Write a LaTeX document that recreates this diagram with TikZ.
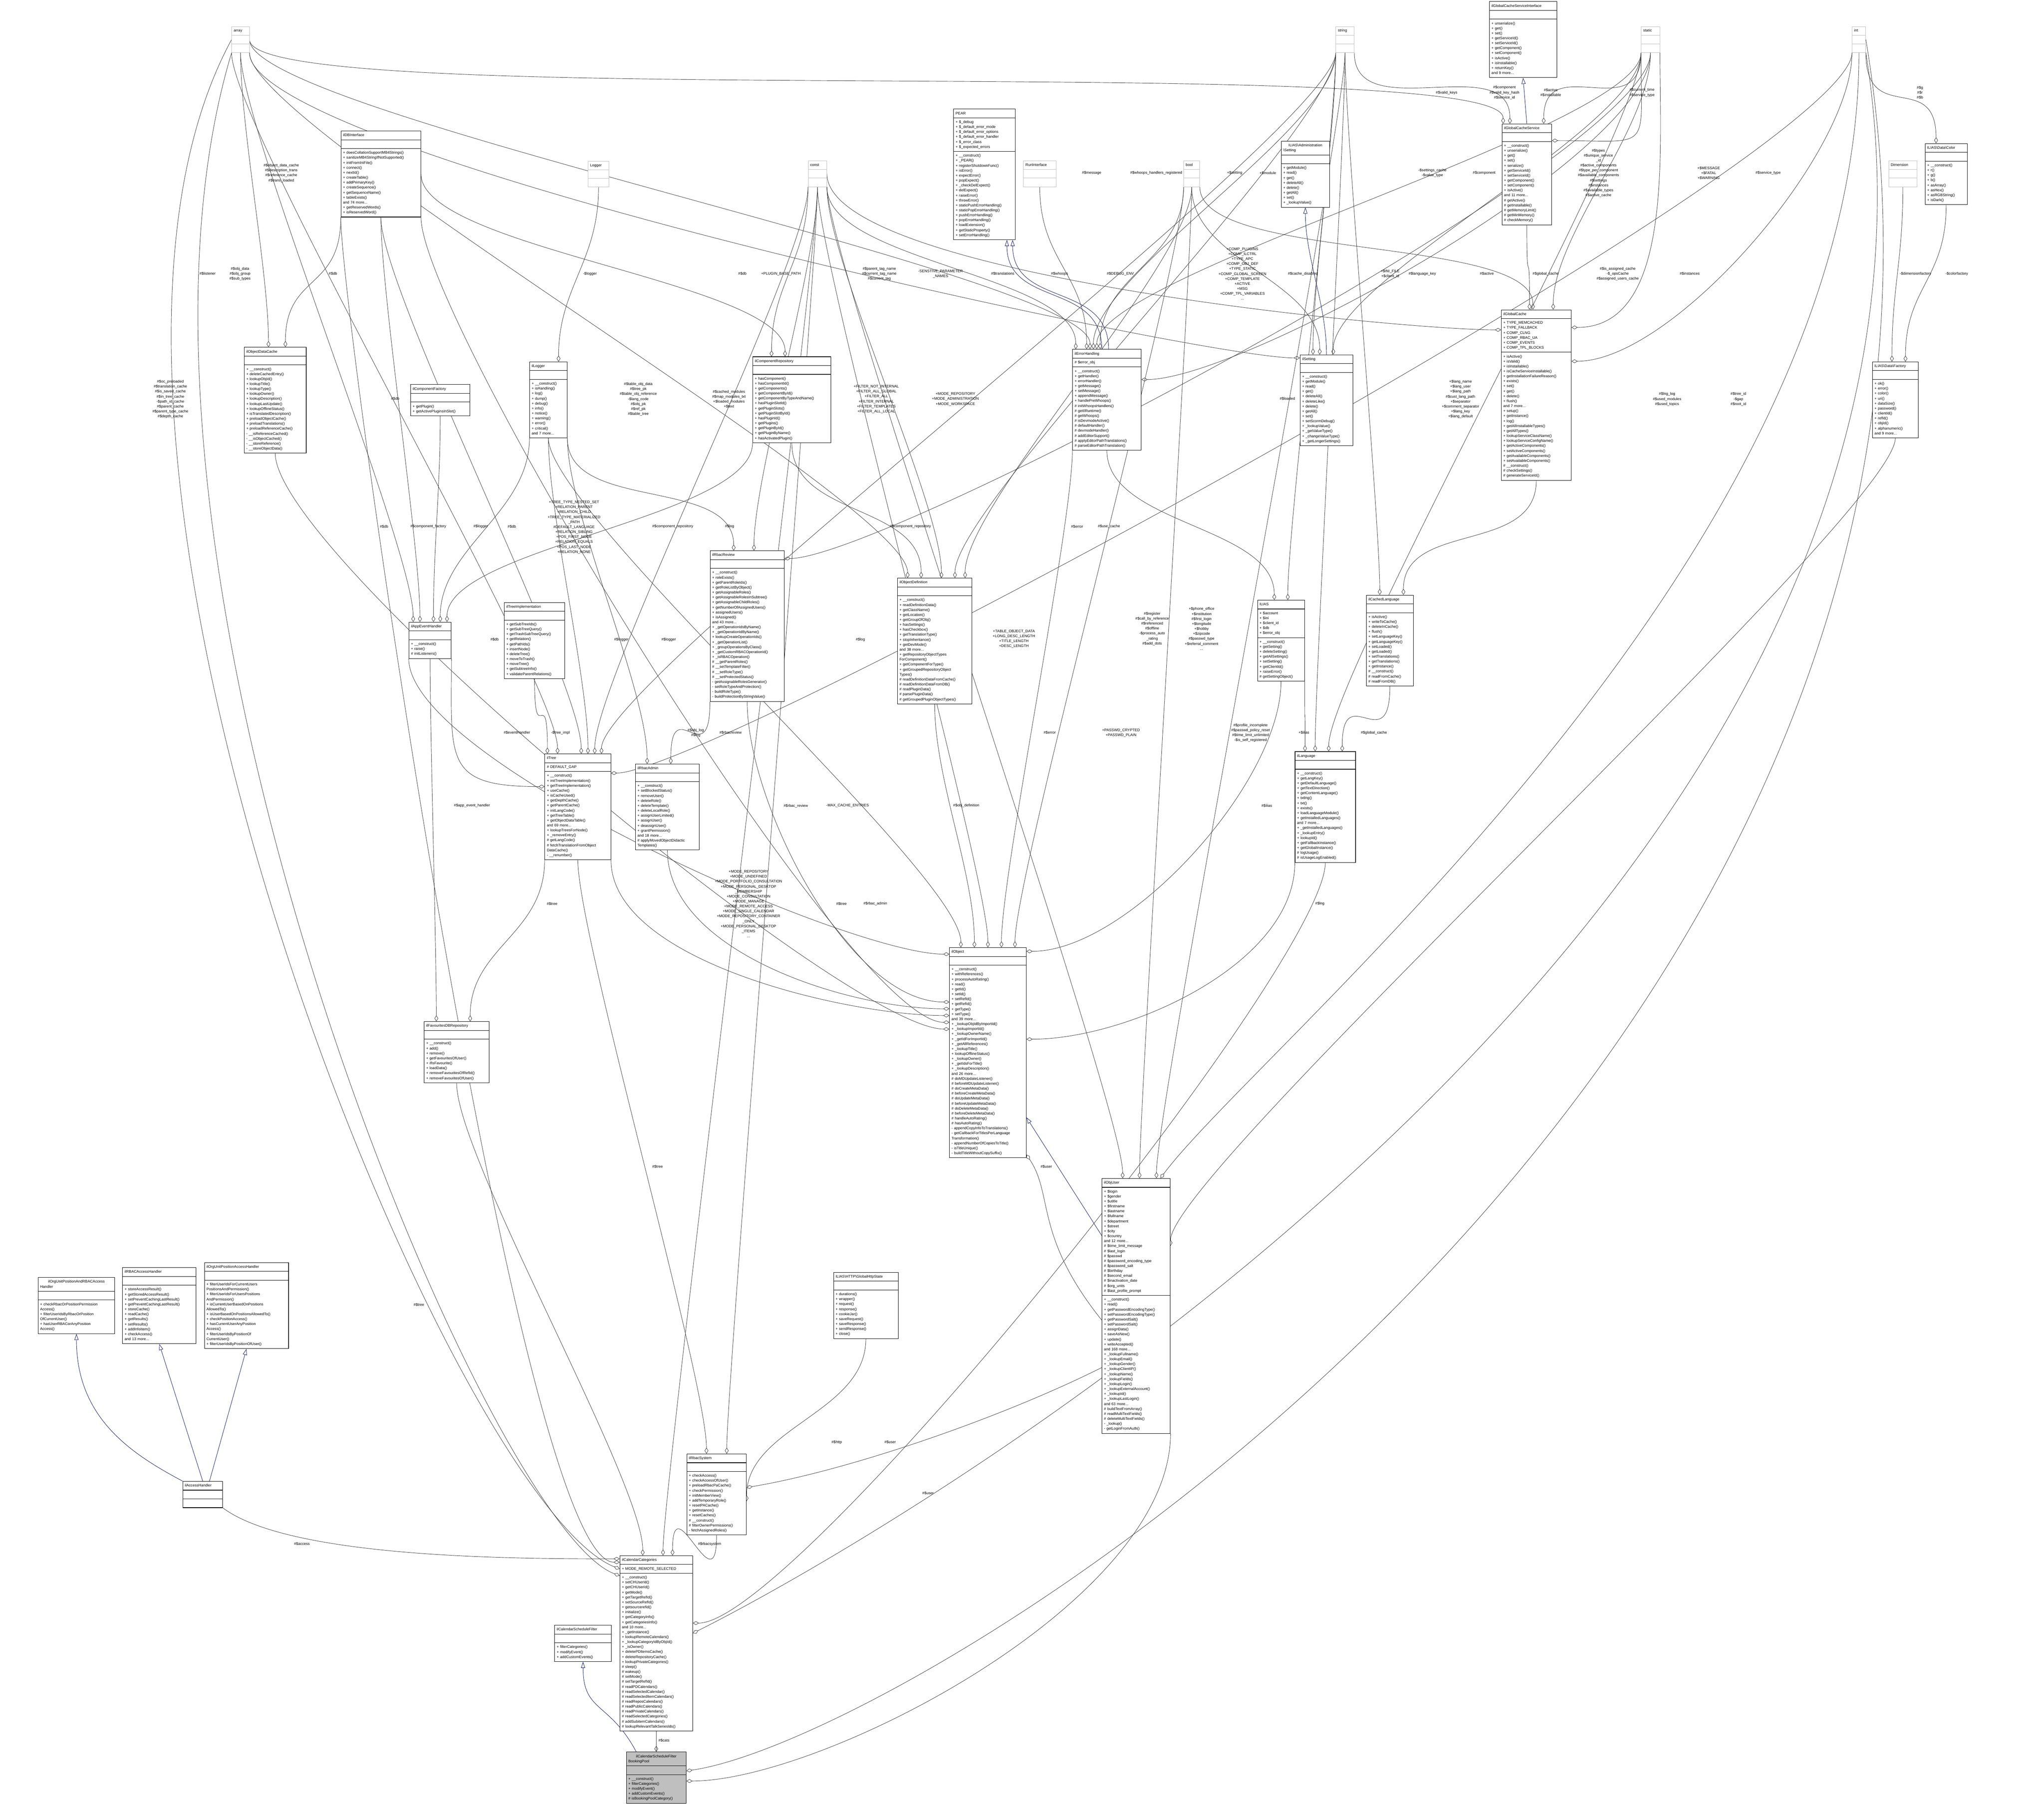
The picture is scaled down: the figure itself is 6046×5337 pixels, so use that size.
\documentclass[tikz,border=0pt]{standalone}
\usepackage{fontspec}
\setmainfont{Liberation Sans}
\usetikzlibrary{shapes.multipart,arrows.meta,calc,backgrounds}
\setlength\parindent{0pt}
\hyphenpenalty=10000 \exhyphenpenalty=10000 \hbadness=10000 \hfuzz=50pt
\newcommand\fs{\fontsize{11}{14.7}\selectfont}
\newcommand\bs{\textbackslash{}}
\definecolor{navyc}{RGB}{25,25,112}
\definecolor{edgec}{RGB}{64,64,64}
\tikzset{
 cls/.style={draw=black,line width=1.3pt,fill=white,rectangle split,rectangle split parts=3,
   inner xsep=6pt,inner ysep=5pt,anchor=north west,font=\fs},
 typ/.style={cls,draw=gray!50,line width=1pt},
 grey/.style={cls,fill=gray!50},
 aggl/.style={draw=edgec,line width=1.1pt,-{Diamond[open,length=18pt,width=11pt]}},
 inh/.style={draw=navyc,line width=1.1pt,-{Triangle[open,length=18pt,width=12pt]}},
 lbl/.style={font=\fs,align=center,inner sep=1pt},
}
\newcommand\ag[2]{\draw[aggl] (#1) .. controls +(0,220) and +(0,-220) .. (#2);}
\newcommand\agW[2]{\draw[aggl] (#1) .. controls +(0,300) and +(-300,0) .. (#2);}
\newcommand\agE[2]{\draw[aggl] (#1) .. controls +(0,300) and +(300,0) .. (#2);}
\newcommand\T[1]{\centering\strut #1\strut}
\newcommand\E{\strut}
\begin{document}
\begin{tikzpicture}[x=1pt,y=-1pt]
\useasboundingbox (0,0) rectangle (6046,5337);
% ---- simple type boxes
\node[typ,text width=40pt] (arr) at (685,78) {\T{array}\nodepart{two}\E\nodepart{three}\E};
\node[typ,text width=42pt] (str) at (3951,78) {\T{string}\nodepart{two}\E\nodepart{three}\E};
\node[typ,text width=43pt] (sta) at (4854,78) {\T{static}\nodepart{two}\E\nodepart{three}\E};
\node[typ,text width=28pt] (int) at (5478,78) {\T{int}\nodepart{two}\E\nodepart{three}\E};
\node[typ,text width=43pt] (cst) at (2390,475) {\T{const}\nodepart{two}\E\nodepart{three}\E};
\node[typ,text width=50pt] (lgr) at (1739,476) {\T{Logger}\nodepart{two}\E\nodepart{three}\E};
\node[typ,text width=84pt] (run) at (3027,475) {\T{RunInterface}\nodepart{two}\E\nodepart{three}\E};
\node[typ,text width=35pt] (bool) at (3501,475) {\T{bool}\nodepart{two}\E\nodepart{three}\E};
\node[typ,text width=72pt] (dim) at (5586,475) {\T{Dimension}\nodepart{two}\E\nodepart{three}\E};
% ---- classes
\node[cls,text width=187pt] (gcsi) at (4405,4) {\T{ilGlobalCacheServiceInterface}\nodepart{two}\E\nodepart{three}\strut+ unserialize()\\+ get()\\+ set()\\+ getServiceId()\\+ setServiceId()\\+ getComponent()\\+ setComponent()\\+ isActive()\\+ isInstallable()\\+ returnKey()\\and 9 more...\strut};
\node[cls,text width=224pt] (db) at (1008,387) {\T{ilDBInterface}\nodepart{two}\E\nodepart{three}\strut+ doesCollationSupportMB4Strings()\\+ sanitizeMB4StringIfNotSupported()\\+ initFromIniFile()\\+ connect()\\+ nextId()\\+ createTable()\\+ addPrimaryKey()\\+ createSequence()\\+ getSequenceName()\\+ tableExists()\\and 74 more...\\+ getReservedWords()\\+ isReservedWord()\strut};
\node[cls,text width=170pt] (pear) at (2820,322) {\T{PEAR}\nodepart{two}\strut+ \$\_debug\\+ \$\_default\_error\_mode\\+ \$\_default\_error\_options\\+ \$\_default\_error\_handler\\+ \$\_error\_class\\+ \$\_expected\_errors\strut\nodepart{three}\strut+ \_\_construct()\\+ \_PEAR()\\+ registerShutdownFunc()\\+ isError()\\+ expectError()\\+ popExpect()\\+ \_checkDelExpect()\\+ delExpect()\\+ raiseError()\\+ throwError()\\+ staticPushErrorHandling()\\+ staticPopErrorHandling()\\+ pushErrorHandling()\\+ popErrorHandling()\\+ loadExtension()\\+ getStaticProperty()\\+ setErrorHandling()\strut};
\node[cls,text width=131pt] (adms) at (3789,417) {\T{ILIAS\bs Administration\\\bs Setting}\nodepart{two}\E\nodepart{three}\strut+ getModule()\\+ read()\\+ get()\\+ deleteAll()\\+ delete()\\+ getAll()\\+ set()\\+ \_lookupValue()\strut};
\node[cls,text width=135pt] (gcs) at (4442,366) {\T{ilGlobalCacheService}\nodepart{two}\E\nodepart{three}\strut+ \_\_construct()\\+ unserialize()\\+ get()\\+ set()\\+ serialize()\\+ getServiceId()\\+ setServiceId()\\+ getComponent()\\+ setComponent()\\+ isActive()\\and 11 more...\\\# getActive()\\\# getInstallable()\\\# getMemoryLimit()\\\# getMinMemory()\\\# checkMemory()\strut};
\node[cls,text width=112pt] (col) at (5694,424) {\T{ILIAS\bs Data\bs Color}\nodepart{two}\E\nodepart{three}\strut+ \_\_construct()\\+ r()\\+ g()\\+ b()\\+ asArray()\\+ asHex()\\+ asRGBString()\\+ isDark()\strut};
\node[cls,text width=171pt] (odc) at (722,1027) {\T{ilObjectDataCache}\nodepart{two}\E\nodepart{three}\strut+ \_\_construct()\\+ deleteCachedEntry()\\+ lookupObjId()\\+ lookupTitle()\\+ lookupType()\\+ lookupOwner()\\+ lookupDescription()\\+ lookupLastUpdate()\\+ lookupOfflineStatus()\\+ isTranslatedDescription()\\+ preloadObjectCache()\\+ preloadTranslations()\\+ preloadReferenceCache()\\- \_\_isReferenceCached()\\- \_\_isObjectCached()\\- \_\_storeReference()\\- \_\_storeObjectData()\strut};
\node[cls,text width=163pt] (cf) at (1214,1137) {\T{ilComponentFactory}\nodepart{two}\E\nodepart{three}\strut+ getPlugin()\\+ getActivePluginsInSlot()\strut};
\node[cls,text width=99pt] (log) at (1566,1070) {\T{ilLogger}\nodepart{two}\E\nodepart{three}\strut+ \_\_construct()\\+ isHandling()\\+ log()\\+ dump()\\+ debug()\\+ info()\\+ notice()\\+ warning()\\+ error()\\+ critical()\\and 7 more...\strut};
\node[cls,text width=219pt] (cr) at (2226,1055) {\T{ilComponentRepository}\nodepart{two}\E\nodepart{three}\strut+ hasComponent()\\+ hasComponentId()\\+ getComponents()\\+ getComponentById()\\+ getComponentByTypeAndName()\\+ hasPluginSlotId()\\+ getPluginSlots()\\+ getPluginSlotById()\\+ hasPluginId()\\+ getPlugins()\\+ getPluginById()\\+ getPluginByName()\\+ hasActivatedPlugin()\strut};
\node[cls,text width=191pt] (eh) at (3172,1033) {\T{ilErrorHandling}\nodepart{two}\strut\# \$error\_obj\strut\nodepart{three}\strut+ \_\_construct()\\+ getHandler()\\+ errorHandler()\\+ getMessage()\\+ setMessage()\\+ appendMessage()\\+ handlePreWhoops()\\\# initWhoopsHandlers()\\\# getIlRuntime()\\\# getWhoops()\\\# isDevmodeActive()\\\# defaultHandler()\\\# devmodeHandler()\\\# addEditorSupport()\\\# applyEditorPathTranslations()\\\# parseEditorPathTranslation()\strut};
\node[cls,text width=144pt] (set) at (3845,1049) {\T{ilSetting}\nodepart{two}\E\nodepart{three}\strut+ \_\_construct()\\+ getModule()\\+ read()\\+ get()\\+ deleteAll()\\+ deleteLike()\\+ delete()\\+ getAll()\\+ set()\\+ setScormDebug()\\+ \_lookupValue()\\+ \_getValueType()\\+ \_changeValueType()\\+ \_getLongerSettings()\strut};
\node[cls,text width=195pt] (gc) at (4440,916) {\T{ilGlobalCache}\nodepart{two}\strut+ TYPE\_MEMCACHED\\+ TYPE\_FALLBACK\\+ COMP\_CLNG\\+ COMP\_RBAC\_UA\\+ COMP\_EVENTS\\+ COMP\_TPL\_BLOCKS\strut\nodepart{three}\strut+ isActive()\\+ isValid()\\+ isInstallable()\\+ isCacheServiceInstallable()\\+ getInstallationFailureReason()\\+ exists()\\+ set()\\+ get()\\+ delete()\\+ flush()\\and 7 more...\\+ setup()\\+ getInstance()\\+ log()\\+ getAllInstallableTypes()\\+ getAllTypes()\\+ lookupServiceClassName()\\+ lookupServiceConfigName()\\+ getActiveComponents()\\+ setActiveComponents()\\+ getAvailableComponents()\\+ setAvailableComponents()\\\# \_\_construct()\\\# checkSettings()\\\# generateServiceId()\strut};
\node[cls,text width=123pt] (dfac) at (5538,1070) {\T{ILIAS\bs Data\bs Factory}\nodepart{two}\E\nodepart{three}\strut+ ok()\\+ error()\\+ color()\\+ uri()\\+ dataSize()\\+ password()\\+ clientId()\\+ refId()\\+ objId()\\+ alphanumeric()\\and 9 more...\strut};
\node[cls,text width=113pt] (aeh) at (1209,1840) {\T{ilAppEventHandler}\nodepart{two}\E\nodepart{three}\strut+ \_\_construct()\\+ raise()\\\# initListeners()\strut};
\node[cls,text width=167pt] (ti) at (1491,1782) {\T{ilTreeImplementation}\nodepart{two}\E\nodepart{three}\strut+ getSubTreeIds()\\+ getSubTreeQuery()\\+ getTrashSubTreeQuery()\\+ getRelation()\\+ getPathIds()\\+ insertNode()\\+ deleteTree()\\+ moveToTrash()\\+ moveTree()\\+ getSubtreeInfo()\\+ validateParentRelations()\strut};
\node[cls,text width=207pt] (rr) at (2100,1629) {\T{ilRbacReview}\nodepart{two}\E\nodepart{three}\strut+ \_\_construct()\\+ roleExists()\\+ getParentRoleIds()\\+ getRoleListByObject()\\+ getAssignableRoles()\\+ getAssignableRolesInSubtree()\\+ getAssignableChildRoles()\\+ getNumberOfAssignedUsers()\\+ assignedUsers()\\+ isAssigned()\\and 43 more...\\+ \_getOperationIdsByName()\\+ \_getOperationIdByName()\\+ lookupCreateOperationIds()\\+ \_getOperationList()\\+ \_groupOperationsByClass()\\+ \_getCustomRBACOperationId()\\+ \_isRBACOperation()\\\# \_\_getParentRoles()\\\# \_\_setTemplateFilter()\\\# \_\_setRoleType()\\\# \_\_setProtectedStatus()\\- getAssignableRolesGenerator()\\- setRoleTypeAndProtection()\\- buildRoleType()\\- buildProtectionByStringValue()\strut};
\node[cls,text width=208pt] (od) at (2654,1710) {\T{ilObjectDefinition}\nodepart{two}\E\nodepart{three}\strut+ \_\_construct()\\+ readDefinitionData()\\+ getClassName()\\+ getLocation()\\+ getGroupOfObj()\\+ hasSettings()\\+ hasCheckbox()\\+ getTranslationType()\\+ stopInheritance()\\+ getDevMode()\\and 38 more...\\+ getRepositoryObjectTypes\\ForComponent()\\+ getComponentForType()\\+ getGroupedRepositoryObject\\Types()\\\# readDefinitionDataFromCache()\\\# readDefinitionDataFromDB()\\\# readPluginData()\\\# parsePluginData()\\\# getGroupedPluginObjectTypes()\strut};
\node[cls,text width=127pt] (ilias) at (3719,1775) {\T{ILIAS}\nodepart{two}\strut+ \$account\\+ \$ini\\+ \$client\_id\\+ \$db\\+ \$error\_obj\strut\nodepart{three}\strut+ \_\_construct()\\+ getSetting()\\+ deleteSetting()\\+ getAllSettings()\\+ setSetting()\\+ getClientId()\\+ raiseError()\\\# getSettingObject()\strut};
\node[cls,text width=127pt] (cl) at (4041,1760) {\T{ilCachedLanguage}\nodepart{two}\E\nodepart{three}\strut+ isActive()\\+ writeToCache()\\+ deleteInCache()\\+ flush()\\+ setLanguageKey()\\+ getLanguageKey()\\+ setLoaded()\\+ getLoaded()\\+ setTranslations()\\+ getTranslations()\\+ getInstance()\\\# \_\_construct()\\\# readFromCache()\\\# readFromDB()\strut};
\node[cls,text width=183pt] (tree) at (1611,2230) {\T{ilTree}\nodepart{two}\strut\# DEFAULT\_GAP\strut\nodepart{three}\strut+ \_\_construct()\\+ initTreeImplementation()\\+ getTreeImplementation()\\+ useCache()\\+ isCacheUsed()\\+ getDepthCache()\\+ getParentCache()\\+ initLangCode()\\+ getTreeTable()\\+ getObjectDataTable()\\and 69 more...\\+ lookupTreesForNode()\\+ \_removeEntry()\\\# getLangCode()\\\# fetchTranslationFromObject\\DataCache()\\- \_\_renumber()\strut};
\node[cls,text width=177pt] (ra) at (1879,2260) {\T{ilRbacAdmin}\nodepart{two}\E\nodepart{three}\strut+ \_\_construct()\\+ setBlockedStatus()\\+ removeUser()\\+ deleteRole()\\+ deleteTemplate()\\+ deleteLocalRole()\\+ assignUserLimited()\\+ assignUser()\\+ deassignUser()\\+ grantPermission()\\and 18 more...\\\# applyMovedObjectDidactic\\Templates()\strut};
\node[cls,text width=167pt] (lng) at (3830,2223) {\T{ilLanguage}\nodepart{two}\E\nodepart{three}\strut+ \_\_construct()\\+ getLangKey()\\+ getDefaultLanguage()\\+ getTextDirection()\\+ getContentLanguage()\\+ txtlng()\\+ txt()\\+ exists()\\+ loadLanguageModule()\\+ getInstalledLanguages()\\and 7 more...\\+ \_getInstalledLanguages()\\+ \_lookupEntry()\\+ lookupId()\\+ getFallbackInstance()\\+ getGlobalInstance()\\\# logUsage()\\\# isUsageLogEnabled()\strut};
\node[cls,text width=215pt] (obj) at (2808,2803) {\T{ilObject}\nodepart{two}\E\nodepart{three}\strut+ \_\_construct()\\+ withReferences()\\+ processAutoRating()\\+ read()\\+ getId()\\+ setId()\\+ setRefId()\\+ getRefId()\\+ getType()\\+ setType()\\and 39 more...\\+ \_lookupObjIdByImportId()\\+ \_lookupImportId()\\+ \_lookupOwnerName()\\+ \_getIdForImportId()\\+ \_getAllReferences()\\+ \_lookupTitle()\\+ lookupOfflineStatus()\\+ \_lookupOwner()\\+ \_getIdsForTitle()\\+ \_lookupDescription()\\and 26 more...\\\# doMDUpdateListener()\\\# beforeMDUpdateListener()\\\# doCreateMetaData()\\\# beforeCreateMetaData()\\\# doUpdateMetaData()\\\# beforeUpdateMetaData()\\\# doDeleteMetaData()\\\# beforeDeleteMetaData()\\\# handleAutoRating()\\\# hasAutoRating()\\- appendCopyInfoToTranslations()\\- getCallbackForTitlesPerLanguage\\Transformation()\\- appendNumberOfCopiesToTitle()\\- isTitleUnique()\\- buildTitleWithoutCopySuffix()\strut};
\node[cls,text width=180pt] (fav) at (1254,3022) {\T{ilFavouritesDBRepository}\nodepart{two}\E\nodepart{three}\strut+ \_\_construct()\\+ add()\\+ remove()\\+ getFavouritesOfUser()\\+ ifIsFavourite()\\+ loadData()\\+ removeFavouritesOfRefId()\\+ removeFavouritesOfUser()\strut};
\node[cls,text width=190pt] (ouser) at (3259,3486) {\T{ilObjUser}\nodepart{two}\strut+ \$login\\+ \$gender\\+ \$utitle\\+ \$firstname\\+ \$lastname\\+ \$fullname\\+ \$department\\+ \$street\\+ \$city\\+ \$country\\and 12 more...\\\# \$time\_limit\_message\\\# \$last\_login\\\# \$passwd\\\# \$password\_encoding\_type\\\# \$password\_salt\\\# \$birthday\\\# \$second\_email\\\# \$inactivation\_date\\\# \$org\_units\\\# \$last\_profile\_prompt\strut\nodepart{three}\strut+ \_\_construct()\\+ read()\\+ getPasswordEncodingType()\\+ setPasswordEncodingType()\\+ getPasswordSalt()\\+ setPasswordSalt()\\+ assignData()\\+ saveAsNew()\\+ update()\\+ writeAccepted()\\and 168 more...\\+ \_lookupFullname()\\+ \_lookupEmail()\\+ \_lookupGender()\\+ \_lookupClientIP()\\+ \_lookupName()\\+ \_lookupFields()\\+ \_lookupLogin()\\+ \_lookupExternalAccount()\\+ \_lookupId()\\+ \_lookupLastLogin()\\and 63 more...\\\# buildTextFromArray()\\\# readMultiTextFields()\\\# deleteMultiTextFields()\\- \_lookup()\\- getLoginFromAuth()\strut};
\node[cls,text width=215pt] (oupr) at (112,3779) {\T{ilOrgUnitPositionAndRBACAccess\\Handler}\nodepart{two}\E\nodepart{three}\strut+ checkRbacOrPositionPermission\\Access()\\+ filterUserIdsByRbacOrPosition\\OfCurrentUser()\\+ hasUserRBACorAnyPosition\\Access()\strut};
\node[cls,text width=205pt] (rah) at (362,3750) {\T{ilRBACAccessHandler}\nodepart{two}\E\nodepart{three}\strut+ storeAccessResult()\\+ getStoredAccessResult()\\+ setPreventCachingLastResult()\\+ getPreventCachingLastResult()\\+ storeCache()\\+ readCache()\\+ getResults()\\+ setResults()\\+ addInfoItem()\\+ checkAccess()\\and 13 more...\strut};
\node[cls,text width=237pt] (oupa) at (604,3735) {\T{ilOrgUnitPositionAccessHandler}\nodepart{two}\E\nodepart{three}\strut+ filterUserIdsForCurrentUsers\\PositionsAndPermission()\\+ filterUserIdsForUsersPositions\\AndPermission()\\+ isCurrentUserBasedOnPositions\\AllowedTo()\\+ isUserBasedOnPositionsAllowedTo()\\+ checkPositionAccess()\\+ hasCurrentUserAnyPosition\\Access()\\+ filterUserIdsByPositionOf\\CurrentUser()\\+ filterUserIdsByPositionOfUser()\strut};
\node[cls,text width=106pt] (ah) at (540,4382) {\T{ilAccessHandler}\nodepart{two}\E\nodepart{three}\E};
\node[cls,text width=179pt] (http) at (2465,3764) {\T{ILIAS\bs HTTP\bs GlobalHttpState}\nodepart{two}\E\nodepart{three}\strut+ durations()\\+ wrapper()\\+ request()\\+ response()\\+ cookieJar()\\+ saveRequest()\\+ saveResponse()\\+ sendResponse()\\+ close()\strut};
\node[cls,text width=164pt] (rs) at (2031,4301) {\T{ilRbacSystem}\nodepart{two}\E\nodepart{three}\strut+ checkAccess()\\+ checkAccessOfUser()\\+ preloadRbacPaCache()\\+ checkPermission()\\+ initMemberView()\\+ addTemporaryRole()\\+ resetPACache()\\+ getInstance()\\+ resetCaches()\\\# \_\_construct()\\\# filterOwnerPermissions()\\- fetchAssignedRoles()\strut};
\node[cls,text width=203pt] (cc) at (1833,4602) {\T{ilCalendarCategories}\nodepart{two}\strut+ MODE\_REMOTE\_SELECTED\strut\nodepart{three}\strut+ \_\_construct()\\+ setCHUserId()\\+ getCHUserId()\\+ getMode()\\+ getTargetRefId()\\+ setSourceRefId()\\+ getsourcerefid()\\+ initialize()\\+ getCategoryInfo()\\+ getCategoriesInfo()\\and 10 more...\\+ \_getInstance()\\+ lookupRemoteCalendars()\\+ \_lookupCategoryIdByObjId()\\+ \_isOwner()\\+ deletePDItemsCache()\\+ deleteRepositoryCache()\\+ lookupPrivateCategories()\\\# sleep()\\\# wakeup()\\\# setMode()\\\# setTargetRefId()\\\# readPDCalendars()\\\# readSelectedCalendar()\\\# readSelectedItemCalendars()\\\# readReposCalendars()\\\# readPublicCalendars()\\\# readPrivateCalendars()\\\# readSelectedCategories()\\\# addSubitemCalendars()\\\# lookupRelevantTalkSeriesIds()\strut};
\node[cls,text width=156pt] (csf) at (1640,4808) {\T{ilCalendarScheduleFilter}\nodepart{two}\E\nodepart{three}\strut+ filterCategories()\\+ modifyEvent()\\+ addCustomEvents()\strut};
\node[grey,text width=165pt] (bp) at (1852,5183) {\T{ilCalendarScheduleFilter\\BookingPool}\nodepart{two}\E\nodepart{three}\strut+ \_\_construct()\\+ filterCategories()\\+ modifyEvent()\\+ addCustomEvents()\\\# isBookingPoolCategory()\strut};

\begin{scope}[on background layer]
\fill[white] (0,0) rectangle (6046,5337);
% inheritance
\draw[inh] (set.north) .. controls +(0,-150) and +(0,150) .. (adms.south);
\draw[inh] (gcs.north) -- (gcsi.south);
\draw[inh] ($(eh.north)+(-15,0)$) .. controls +(0,-200) and +(0,200) .. ($(pear.south east)+(-25,0)$);
\draw[inh] ($(eh.north)+(5,0)$) .. controls +(0,-200) and +(0,200) .. ($(pear.south east)+(-8,0)$);
\draw[inh] ($(ouser.north west)+(0,170)$) -- ($(obj.south east)+(0,-120)$);
\draw[inh] (ah.north west) .. controls +(-150,-80) and +(0,250) .. (oupr.south);
\draw[inh] (ah.north) -- (rah.south);
\draw[inh] ($(ah.north)+(20,0)$) -- (oupa.south);
\draw[inh] ($(bp.north west)+(30,0)$) .. controls +(-80,-150) and +(0,150) .. (csf.south);
% aggregation
\ag{arr.south}{$(odc.north)+(-20,0)$}
\ag{db.south west}{$(odc.north)+(30,0)$}
\ag{lgr.south}{$(log.north)+(30,0)$}
\ag{cst.south west}{$(cr.north)+(-60,0)$}
\ag{db.east}{$(cr.north)+(-20,0)$}
\ag{str.south east}{$(gcs.north)+(-50,0)$}
\ag{sta.south west}{$(gcs.north)+(50,0)$}
\ag{arr.east}{$(gcs.north)+(-70,0)$}
\ag{str.south west}{$(set.north)+(-40,0)$}
\ag{bool.south}{$(set.north)+(-20,0)$}
\ag{sta.south west}{$(set.north)+(20,0)$}
\agW{arr.south east}{$(set.north west)+(0,10)$}
\ag{gcs.south}{$(gc.north)+(-20,0)$}
\ag{bool.south east}{$(gc.north)+(-10,0)$}
\ag{sta.south}{$(gc.north)+(50,0)$}
\agW{cst.east}{$(gc.north west)+(0,60)$}
\ag{int.south east}{$(col.north)+(-30,0)$}
\ag{dim.south}{$(dfac.north)+(-10,0)$}
\ag{col.south}{$(dfac.north)+(30,0)$}
\ag{str.south west}{$(eh.north)+(-40,0)$}
\ag{cst.south east}{$(eh.north west)+(10,0)$}
\ag{run.south}{$(eh.north)+(-60,0)$}
\ag{sta.south west}{$(eh.north)+(-30,0)$}
\ag{arr.east}{$(eh.north)+(-50,0)$}
\ag{bool.south west}{$(eh.north)+(-20,0)$}
\agE{sta.south}{$(eh.east)+(0,-60)$}
\ag{ti.south}{$(tree.north)+(-90,0)$}
\agW{aeh.south east}{$(tree.west)+(0,-60)$}
\ag{db.south}{$(tree.north)+(10,0)$}
\ag{log.south}{$(tree.north)+(30,0)$}
\ag{log.south east}{$(ra.north)+(-60,0)$}
\ag{rr.south west}{$(ra.north)+(10,0)$}
\ag{tree.south west}{$(fav.north)+(40,0)$}
\ag{aeh.south}{$(fav.north)+(-60,0)$}
\agW{aeh.south west}{$(obj.north west)+(0,20)$}
\ag{db.south}{$(aeh.north)+(-30,0)$}
\ag{cf.south}{$(aeh.north)+(10,0)$}
\ag{log.south west}{$(aeh.north)+(30,0)$}
\ag{cr.south west}{$(aeh.north)+(50,0)$}
\ag{cr.south}{$(od.north)+(-40,0)$}
\ag{log.south east}{$(rr.north)+(-40,0)$}
\ag{od.south}{$(obj.north)+(-40,0)$}
\ag{cst.south}{$(obj.north)+(0,0)$}
\ag{eh.south west}{$(obj.north)+(40,0)$}
\agW{rr.south}{$(obj.west)+(0,-150)$}
\agW{ra.south}{$(obj.west)+(0,-130)$}
\agW{tree.south east}{$(obj.west)+(0,-110)$}
\agW{db.south east}{$(obj.west)+(0,-90)$}
\agW{odc.south}{$(obj.west)+(0,-70)$}
\agE{lng.south west}{$(obj.east)+(0,-40)$}
\agE{ilias.south}{$(obj.east)+(0,-300)$}
\ag{ilias.south east}{$(lng.north)+(-60,0)$}
\ag{cl.south}{$(lng.north)+(50,0)$}
\ag{gc.south}{$(cl.north)+(40,0)$}
\draw[aggl] ($(ouser.north west)+(0,420)$) .. controls +(-200,-250) and +(80,120) .. ($(obj.south east)+(0,-10)$);
\draw[aggl] ($(ouser.north west)+(0,560)$) .. controls +(-300,150) and +(300,-50) .. ($(rs.north east)+(0,100)$);
\ag{http.south}{$(rs.east)+(0,20)$}
\ag{tree.south}{$(rs.north)+(-30,0)$}
\ag{rs.south}{$(cc.north east)+(-60,0)$}
\draw[aggl] (ah.south east) .. controls +(200,150) and +(-300,0) .. ($(cc.north west)+(0,10)$);
\ag{cc.south}{bp.north}
\agE{lng.south}{$(cc.east)+(0,-60)$}
\agW{db.south west}{$(cc.north west)+(0,20)$}
\draw[aggl] (ouser.south east) .. controls +(0,500) and +(400,0) .. ($(bp.east)+(0,10)$);
\ag{fav.south}{$(cc.north)+(-40,0)$}
\ag{arr.south west}{$(tree.north)+(-60,0)$}
\ag{arr.south}{$(aeh.north)+(-50,0)$}
\ag{arr.south east}{$(od.north)+(-80,0)$}
\ag{str.south}{$(lng.north)+(-30,0)$}
\ag{sta.south west}{$(lng.north)+(10,0)$}
\agE{int.south west}{$(tree.east)+(0,-100)$}
\ag{str.south}{$(cl.north)+(-30,0)$}
\ag{str.south west}{$(ilias.north)+(20,0)$}
\agE{sta.south}{$(rr.east)+(0,-200)$}
\agE{sta.south west}{$(gcs.east)+(0,-100)$}
\agE{sta.south east}{$(gc.east)+(0,-200)$}
\agE{int.south west}{$(gc.east)+(0,-100)$}
\ag{cst.south west}{$(tree.north)+(50,0)$}
\ag{str.south west}{$(tree.north)+(70,0)$}
\ag{cst.south}{$(rr.north)+(20,0)$}
\ag{cst.south east}{$(od.north)+(20,0)$}
\ag{str.south west}{$(od.north)+(60,0)$}
\ag{cst.south}{$(cc.north)+(20,0)$}
\ag{cst.south east}{$(ouser.north)+(-40,0)$}
\ag{bool.south}{$(ouser.north)+(10,0)$}
\ag{cst.south}{$(rs.north)+(30,0)$}
\ag{log.south}{$(obj.north)+(-80,0)$}
\ag{bool.south west}{$(obj.north)+(80,0)$}
\ag{str.south}{$(ouser.north)+(60,0)$}
\ag{eh.south}{$(ilias.north)+(-20,0)$}
\ag{bool.south}{$(od.north)+(90,0)$}
\draw[aggl] (arr.west) .. controls +(-650,1200) and +(-500,-200) .. ($(cc.north west)+(0,40)$);
\draw[aggl] (arr.south west) .. controls +(-450,1500) and +(-400,-150) .. ($(cc.north west)+(0,60)$);
\draw[aggl] (int.south east) .. controls +(400,2500) and +(600,-300) .. ($(cc.east)+(0,-30)$);
\draw[aggl] (int.east) .. controls +(500,3000) and +(700,-100) .. ($(bp.east)+(0,-20)$);
\draw[aggl] (int.south) .. controls +(0,1500) and +(300,-400) .. ($(ouser.north east)+(-30,0)$);
\ag{dfac.south}{$(ouser.north east)+(0,200)$}
\end{scope}
% ---- labels
\node[lbl] at (832,512) {\#\$object\_data\_cache\\\#\$description\_trans\\\#\$reference\_cache\\\#\$trans\_loaded};
\node[lbl] at (614,810) {\#\$listener};
\node[lbl] at (710,810) {\#\$obj\_data\\\#\$obj\_group\\\#\$sub\_types};
\node[lbl] at (985,810) {\#\$db};
\node[lbl] at (504,1181) {\#\$oc\_preloaded\\\#\$translation\_cache\\\#\$is\_saved\_cache\\\#\$in\_tree\_cache\\-\$path\_id\_cache\\\#\$parent\_cache\\\#\$parent\_type\_cache\\\#\$depth\_cache};
\node[lbl] at (1169,1180) {\#\$db};
\node[lbl] at (1745,810) {-\$logger};
\node[lbl] at (1888,1181) {\#\$table\_obj\_data\\\#\$tree\_pk\\\#\$table\_obj\_reference\\-\$lang\_code\\\#\$obj\_pk\\\#\$ref\_pk\\\#\$table\_tree};
\node[lbl] at (1136,1558) {\#\$db};
\node[lbl] at (1267,1558) {\#\$component\_factory};
\node[lbl] at (1422,1558) {\#\$logger};
\node[lbl] at (1514,1558) {\#\$db};
\node[lbl] at (1698,1560) {+TREE\_TYPE\_NESTED\_SET\\+RELATION\_PARENT\\+RELATION\_CHILD\\+TREE\_TYPE\_MATERIALIZED\\\_PATH\\\#DEFAULT\_LANGUAGE\\+RELATION\_SIBLING\\+POS\_FIRST\_NODE\\+RELATION\_EQUALS\\+POS\_LAST\_NODE\\+RELATION\_NONE};
\node[lbl] at (1990,1558) {\#\$component\_repository};
\node[lbl] at (2196,810) {\#\$db};
\node[lbl] at (2310,810) {+PLUGIN\_BASE\_PATH};
\node[lbl] at (2601,810) {\#\$parent\_tag\_name\\\#\$current\_tag\_name\\\#\$current\_tag};
\node[lbl] at (2782,810) {-SENSTIVE\_PARAMETER\\\_NAMES};
\node[lbl] at (2966,810) {\#\$translations};
\node[lbl] at (3134,810) {\#\$whoops};
\node[lbl] at (3314,810) {\#\$DEBUG\_ENV};
\node[lbl] at (3229,512) {\#\$message};
\node[lbl] at (3420,512) {\#\$whoops\_handlers\_registered};
\node[lbl] at (2156,1181) {\#\$cached\_modules\\\#\$map\_modules\_txt\\+\$loaded\_modules\\+\$text};
\node[lbl] at (2592,1181) {+FILTER\_NOT\_INTERNAL\\+FILTER\_ALL\_GLOBAL\\+FILTER\_ALL\\+FILTER\_INTERNAL\\+FILTER\_TEMPLATES\\+FILTER\_ALL\_LOCAL};
\node[lbl] at (2826,1181) {+MODE\_REPOSITORY\\+MODE\_ADMINISTRATION\\+MODE\_WORKSPACE};
\node[lbl] at (2158,1558) {\#\$log};
\node[lbl] at (2693,1558) {\#\$component\_repository};
\node[lbl] at (3186,1558) {\#\$error};
\node[lbl] at (3280,1558) {\#\$use\_cache};
\node[lbl] at (3652,512) {+\$setting};
\node[lbl] at (3750,512) {+\$module};
\node[lbl] at (4237,512) {-\$settings\_cache\\-\$value\_type};
\node[lbl] at (4390,512) {\#\$component};
\node[lbl] at (4279,274) {\#\$valid\_keys};
\node[lbl] at (4450,274) {\#\$component\\\#\$valid\_key\_hash\\\#\$service\_id};
\node[lbl] at (4587,274) {\#\$active\\\#\$installable};
\node[lbl] at (4728,512) {\#\$types\\\#\$unique\_service\\\_id\\\#\$active\_components\\\#\$type\_per\_component\\\#\$available\_components\\\#\$settings\\\#\$instances\\\#\$available\_types\\\#\$active\_cache};
\node[lbl] at (3675,810) {+COMP\_PLUGINS\\+COMP\_ILCTRL\\+TYPE\_APC\\+COMP\_OBJ\_DEF\\+TYPE\_STATIC\\+COMP\_GLOBAL\_SCREEN\\+COMP\_TEMPLATE\\+ACTIVE\\+MSG\\+COMP\_TPL\_VARIABLES\\...};
\node[lbl] at (3854,810) {\#\$cache\_disabled};
\node[lbl] at (4112,810) {+\$INI\_FILE\\+\$client\_id};
\node[lbl] at (4207,810) {\#\$language\_key};
\node[lbl] at (4398,810) {\#\$active};
\node[lbl] at (4572,810) {\#\$global\_cache};
\node[lbl] at (4785,810) {\#\$is\_assigned\_cache\\-\$\_opsCache\\\#\$assigned\_users\_cache};
\node[lbl] at (3808,1180) {\#\$loaded};
\node[lbl] at (4320,1181) {+\$lang\_name\\+\$lang\_user\\+\$lang\_path\\\#\$cust\_lang\_path\\+\$separator\\+\$comment\_separator\\+\$lang\_key\\+\$lang\_default};
\node[lbl] at (4857,274) {\#\$current\_time\\\#\$service\_type};
\node[lbl] at (5054,512) {+\$MESSAGE\\+\$FATAL\\+\$WARNING};
\node[lbl] at (5230,512) {\#\$service\_type};
\node[lbl] at (5679,274) {\#\$g\\\#\$r\\\#\$b};
\node[lbl] at (4998,810) {\#\$instances};
\node[lbl] at (5666,810) {-\$dimensionfactory};
\node[lbl] at (5788,810) {-\$colorfactory};
\node[lbl] at (4931,1181) {\#\$lng\_log\\\#\$used\_modules\\\#\$used\_topics};
\node[lbl] at (5142,1181) {\#\$tree\_id\\-\$gap\\\#\$root\_id};
\node[lbl] at (1463,1892) {\#\$db};
\node[lbl] at (1838,1892) {\#\$logger};
\node[lbl] at (1978,1892) {\#\$logger};
\node[lbl] at (2545,1892) {\#\$log};
\node[lbl] at (1529,2168) {\#\$eventHandler};
\node[lbl] at (1658,2168) {-\$tree\_impl};
\node[lbl] at (2058,2168) {\#\$obj\_log\\\#\$log};
\node[lbl] at (2161,2168) {\#\$rbacreview};
\node[lbl] at (1396,2384) {\#\$app\_event\_handler};
\node[lbl] at (2354,2384) {\#\$rbac\_review};
\node[lbl] at (2507,2384) {-MAX\_CACHE\_ENTRIES};
\node[lbl] at (1633,2674) {\#\$tree};
\node[lbl] at (2214,2674) {+MODE\_REPOSITORY\\+MODE\_UNDEFINED\\+MODE\_PORTFOLIO\_CONSULTATION\\+MODE\_PERSONAL\_DESKTOP\\\_MEMBERSHIP\\+MODE\_CONSULTATION\\+MODE\_MANAGE\\+MODE\_REMOTE\_ACCESS\\+MODE\_SINGLE\_CALENDAR\\+MODE\_REPOSITORY\_CONTAINER\\\_ONLY\\+MODE\_PERSONAL\_DESKTOP\\\_ITEMS\\...};
\node[lbl] at (2489,2674) {\#\$tree};
\node[lbl] at (2589,2674) {\#\$rbac\_admin};
\node[lbl] at (2999,1890) {+TABLE\_OBJECT\_DATA\\+LONG\_DESC\_LENGTH\\+TITLE\_LENGTH\\+DESC\_LENGTH};
\node[lbl] at (3408,1860) {\#\$register\\\#\$call\_by\_reference\\\#\$referenced\\\#\$offline\\-\$process\_auto\\\_rating\\\#\$add\_dots};
\node[lbl] at (3554,1860) {+\$phone\_office\\+\$institution\\\#\$first\_login\\+\$longitude\\+\$hobby\\+\$zipcode\\\#\$passwd\_type\\+\$referral\_comment\\...};
\node[lbl] at (2858,2384) {\#\$obj\_definition};
\node[lbl] at (3105,2168) {\#\$error};
\node[lbl] at (3316,2168) {+PASSWD\_CRYPTED\\+PASSWD\_PLAIN};
\node[lbl] at (3699,2168) {\#\$profile\_incomplete\\\#\$passwd\_policy\_reset\\\#\$time\_limit\_unlimited\\-\$is\_self\_registered};
\node[lbl] at (3857,2168) {+\$ilias};
\node[lbl] at (4064,2168) {\#\$global\_cache};
\node[lbl] at (3747,2384) {\#\$ilias};
\node[lbl] at (3904,2674) {\#\$lng};
\node[lbl] at (1945,3452) {\#\$tree};
\node[lbl] at (3095,3452) {\#\$user};
\node[lbl] at (2475,4267) {\#\$http};
\node[lbl] at (2633,4267) {\#\$user};
\node[lbl] at (2745,4418) {\#\$user};
\node[lbl] at (2099,4568) {\#\$rbacsystem};
\node[lbl] at (1239,3860) {\#\$tree};
\node[lbl] at (893,4568) {\#\$access};
\node[lbl] at (1964,5149) {\#\$cats};
\end{tikzpicture}
\end{document}
